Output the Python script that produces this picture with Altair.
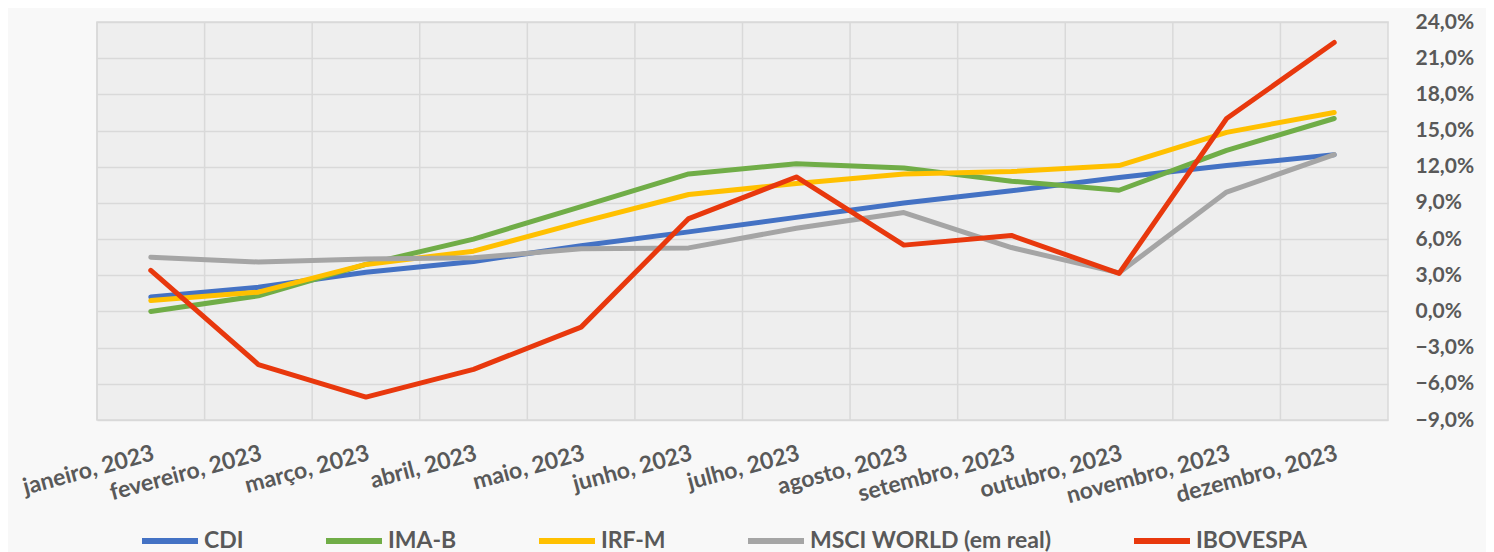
import altair as alt
import pandas as pd

months = ["janeiro, 2023", "fevereiro, 2023", "março, 2023", "abril, 2023", "maio, 2023",
          "junho, 2023", "julho, 2023", "agosto, 2023", "setembro, 2023", "outubro, 2023",
          "novembro, 2023", "dezembro, 2023"]
series_names = ["CDI", "IMA-B", "IRF-M", "MSCI WORLD (em real)", "IBOVESPA"]
colors = ["#4472C4", "#70AD47", "#FFC000", "#A5A5A5", "#E8380D"]

cdi = [1.2, 2.0, 3.25, 4.15, 5.45, 6.6, 7.8, 9.0, 10.0, 11.1, 12.1, 13.0]
imab = [0.0, 1.3, 3.9, 6.0, 8.7, 11.4, 12.25, 11.9, 10.8, 10.05, 13.35, 16.0]
irfm = [0.9, 1.6, 3.9, 5.0, 7.4, 9.7, 10.6, 11.4, 11.6, 12.1, 14.85, 16.5]
msci = [4.5, 4.1, 4.35, 4.45, 5.2, 5.27, 6.9, 8.2, 5.3, 3.2, 9.9, 13.0]
ibov = [3.4, -4.4, -7.1, -4.8, -1.3, 7.7, 11.15, 5.5, 6.3, 3.15, 16.0, 22.3]

y_ticks = [-9, -6, -3, 0, 3, 6, 9, 12, 15, 18, 21, 24]

values = [cdi, imab, irfm, msci, ibov]
rows = []
for name, vals in zip(series_names, values):
    for m, v in zip(months, vals):
        rows.append({"mes": m, "serie": name, "valor": v})
df = pd.DataFrame(rows)
grid_df = pd.DataFrame({"mes": months})

FONT = "Lato"
TXT = "#595959"

xscale = alt.Scale(type="band", domain=months, paddingInner=0, paddingOuter=0)
xaxis = alt.Axis(title=None, labelAngle=345, labelAlign="right", labelBaseline="top",
                 labelPadding=22, ticks=False, domain=False, grid=False,
                 labelFont=FONT, labelFontSize=23, labelFontWeight="bold",
                 labelColor=TXT, labelOverlap=False, labelLimit=300)

grid = alt.Chart(grid_df).mark_rule(color="#d9d9d9", strokeWidth=1.5).encode(
    x=alt.X("mes:N", scale=xscale, bandPosition=0, axis=xaxis)
)

lines = alt.Chart(df).mark_line(strokeWidth=5, strokeJoin="round", strokeCap="round").encode(
    x=alt.X("mes:N", scale=xscale, bandPosition=0.5, axis=xaxis),
    y=alt.Y("valor:Q", scale=alt.Scale(domain=[-9, 24], nice=False, zero=False),
            axis=alt.Axis(title=None, orient="right", values=y_ticks, ticks=False, domain=False,
                          grid=True, gridColor="#d9d9d9", gridWidth=1.5,
                          labelExpr="replace(format(datum.value, '.1f'), '.', ',') + '%'",
                          labelPadding=27, labelFont=FONT, labelFontSize=21,
                          labelFontWeight="bold", labelColor=TXT)),
    color=alt.Color("serie:N", sort=series_names,
                    scale=alt.Scale(domain=series_names, range=colors),
                    legend=alt.Legend(title=None, orient="none", direction="horizontal",
                                      legendX=42, legendY=488,
                                      symbolType="stroke", symbolSize=3136, symbolStrokeWidth=6,
                                      labelFont=FONT, labelFontSize=23, labelFontWeight="bold",
                                      labelColor=TXT, columnPadding=70, labelOffset=3,
                                      labelLimit=400)),
)

chart = alt.layer(grid, lines).properties(
    width=1291, height=398,
    autosize=alt.AutoSizeParams(type="none"),
    padding={"left": 89, "top": 14, "right": 98, "bottom": 132},
    background="#f8f8f8"
).configure_view(fill="#eeeeee", stroke="#d9d9d9", strokeWidth=1.5)

chart.save("out.html", embed_options={"renderer": "svg", "actions": False})
